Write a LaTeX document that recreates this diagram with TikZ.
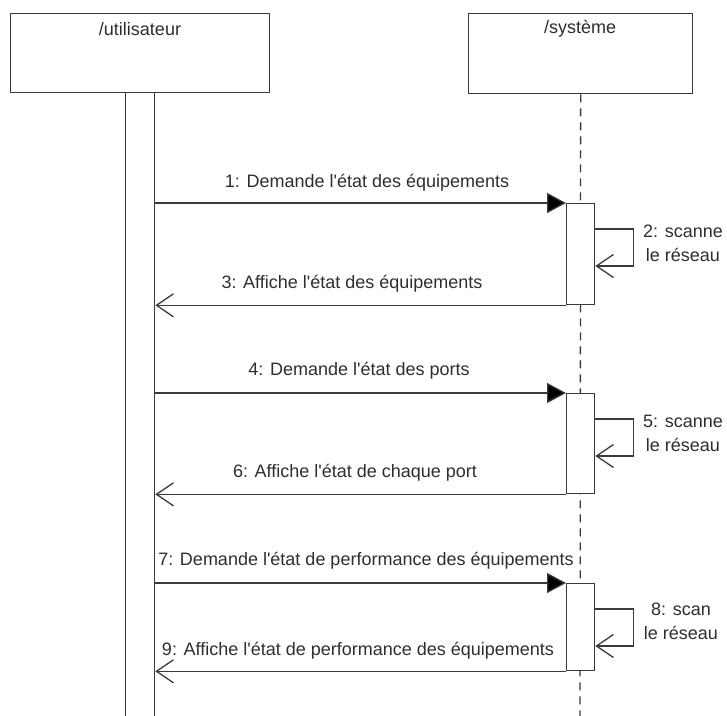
\documentclass[tikz,border=0pt]{standalone}
\usepackage{fontspec}
\setmainfont{Liberation Sans}[Ligatures=TeXOff]
\usetikzlibrary{arrows.meta,calc}
\definecolor{ink}{HTML}{3A3A3A}
\definecolor{txt}{HTML}{2E2E2E}
\begin{document}
\begin{tikzpicture}[x=1pt,y=-1pt,
  every node/.style={font=\fontsize{18}{24}\selectfont, text=txt},
  line/.style={draw=ink, line width=1.3pt},
  headbox/.style={line, fill=white, rectangle, inner sep=0pt, anchor=north west},
  actbox/.style={line, fill=white, rectangle, inner sep=0pt, anchor=north west, minimum width=28pt},
  callmsg/.style={line, -{Triangle[length=19pt,width=20pt,fill=black]}},
  retmsg/.style={line, -{Straight Barb[length=17pt,width=23pt,line width=1.3pt]}},
  lifeline/.style={line, dash pattern=on 8pt off 6pt},
]
\useasboundingbox (0,0) rectangle (727,715);
\clip (0,0) rectangle (727,715);

% participant heads
\node[headbox, minimum width=259pt, minimum height=79pt] (uhead) at (10,13) {};
\node[headbox, minimum width=224pt, minimum height=80pt] (shead) at (468,13) {};
\node (utitle) at (140,29) {/utilisateur};
\node (stitle) at (580,29) {/système};

% system lifeline
\coordinate (send) at (580,722);
\draw[lifeline] (shead.south) -- (send);

% user activation bar (runs the whole height)
\node[headbox, minimum width=29pt, minimum height=640pt] (ubar) at (125,92) {};

% system activations
\node[actbox, minimum height=101pt] (act1) at (566,203) {};
\node[actbox, minimum height=100pt] (act2) at (566,393) {};
\node[actbox, minimum height=87pt] (act3) at (566,583) {};

% calls and replies
\foreach \a in {act1,act2,act3}{
  \draw[callmsg] (ubar.east |- \a.north west) -- (\a.north west);
  \draw[retmsg] (\a.south west) -- (ubar.east |- \a.south west);
  \draw[retmsg] ($(\a.north east)+(0,26)$) -- ++(38,0) -- ++(0,37) -- ($(\a.north east)+(0,63)$);
}

% message labels
\node (m1) at (367,183) {1: Demande l'état des équipements};
\node (m3) at (352,284) {3: Affiche l'état des équipements};
\node (m4) at (359,371) {4: Demande l'état des ports};
\node (m6) at (355,473) {6: Affiche l'état de chaque port};
\node (m7) at (366,561) {7: Demande l'état de performance des équipements};
\node (m9) at (358,651) {9: Affiche l'état de performance des équipements};
\node[align=center] (m2) at (683,243) {2: scanne\\le réseau};
\node[align=center] (m5) at (683,433) {5: scanne\\le réseau};
\node[align=center] (m8) at (681,621) {8: scan\\le réseau};
\end{tikzpicture}
\end{document}
